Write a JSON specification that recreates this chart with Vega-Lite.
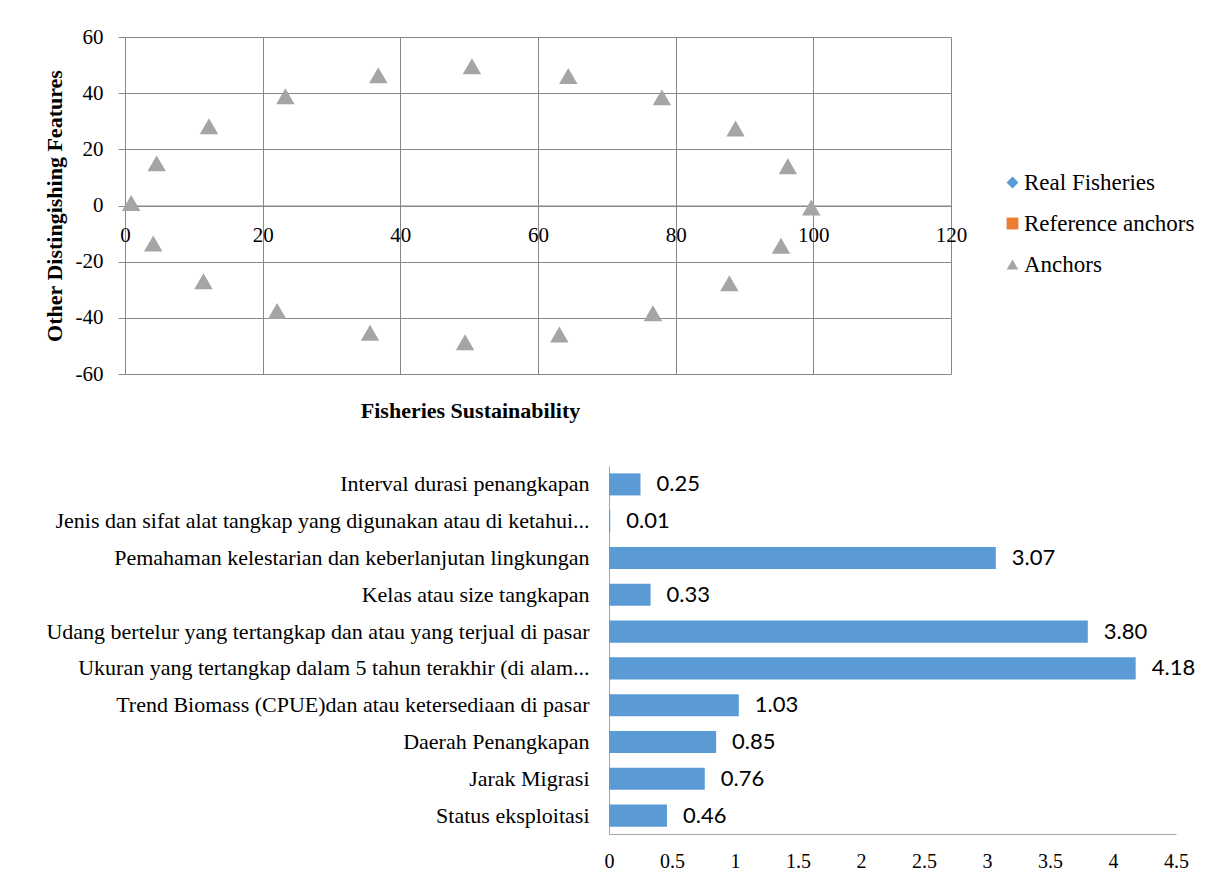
{
  "$schema": "https://vega.github.io/schema/vega-lite/v6.json",
  "background": "white",
  "padding": {"left": 43, "top": 26, "right": 0, "bottom": 0},
  "spacing": 44,
  "config": {
    "view": {"stroke": null},
    "font": "Liberation Serif",
    "axis": {
      "labelFont": "Liberation Serif",
      "titleFont": "Liberation Serif",
      "labelColor": "#000000",
      "titleColor": "#000000"
    }
  },
  "vconcat": [
    {
      "width": 826,
      "height": 337,
      "data": {
        "values": [
          {"sustainability": 0.9, "features": 0.9, "series": "Anchors"},
          {"sustainability": 4.6, "features": 15.0, "series": "Anchors"},
          {"sustainability": 12.2, "features": 28.2, "series": "Anchors"},
          {"sustainability": 23.3, "features": 38.9, "series": "Anchors"},
          {"sustainability": 36.8, "features": 46.4, "series": "Anchors"},
          {"sustainability": 50.4, "features": 49.6, "series": "Anchors"},
          {"sustainability": 64.4, "features": 46.1, "series": "Anchors"},
          {"sustainability": 78.0, "features": 38.5, "series": "Anchors"},
          {"sustainability": 88.7, "features": 27.4, "series": "Anchors"},
          {"sustainability": 96.3, "features": 14.0, "series": "Anchors"},
          {"sustainability": 99.7, "features": -0.7, "series": "Anchors"},
          {"sustainability": 95.3, "features": -14.3, "series": "Anchors"},
          {"sustainability": 87.8, "features": -27.7, "series": "Anchors"},
          {"sustainability": 76.7, "features": -38.4, "series": "Anchors"},
          {"sustainability": 63.1, "features": -45.9, "series": "Anchors"},
          {"sustainability": 49.4, "features": -48.7, "series": "Anchors"},
          {"sustainability": 35.6, "features": -45.3, "series": "Anchors"},
          {"sustainability": 22.1, "features": -37.6, "series": "Anchors"},
          {"sustainability": 11.4, "features": -27.0, "series": "Anchors"},
          {"sustainability": 4.1, "features": -13.5, "series": "Anchors"}
        ]
      },
      "mark": {"type": "point", "filled": true, "opacity": 1, "size": 340},
      "encoding": {
        "x": {
          "field": "sustainability",
          "type": "quantitative",
          "scale": {"domain": [0, 120], "nice": false, "zero": false},
          "axis": {
            "values": [0, 20, 40, 60, 80, 100, 120],
            "title": "Fisheries Sustainability",
            "offset": -168.5,
            "grid": true,
            "gridColor": "#888888",
            "gridOpacity": 1,
            "domain": true,
            "domainColor": "#888888",
            "ticks": false,
            "tickSize": 0,
            "labelPadding": 19,
            "labelFontSize": 21,
            "labelFlush": false,
            "titleFontSize": 22,
            "titleFontWeight": "bold",
            "titleX": 345,
            "titleAlign": "center",
            "titlePadding": 155
          }
        },
        "y": {
          "field": "features",
          "type": "quantitative",
          "scale": {"domain": [-60, 60], "nice": false, "zero": false},
          "axis": {
            "values": [-60, -40, -20, 0, 20, 40, 60],
            "labelExpr": "datum.value < 0 ? '-' + abs(datum.value) : '' + datum.value",
            "title": "Other Distingishing Features",
            "grid": true,
            "gridColor": "#888888",
            "gridOpacity": 1,
            "domain": false,
            "ticks": true,
            "tickSize": 7,
            "tickColor": "#888888",
            "labelPadding": 15,
            "labelFontSize": 21,
            "titleFontSize": 22,
            "titleFontWeight": "bold",
            "titlePadding": 9
          }
        },
        "color": {
          "field": "series",
          "type": "nominal",
          "scale": {
            "domain": ["Real Fisheries", "Reference anchors", "Anchors"],
            "range": ["#5b9bd5", "#ed7d31", "#a5a5a5"]
          },
          "legend": {
            "title": null,
            "orient": "none",
            "legendX": 876,
            "legendY": 134,
            "padding": 0,
            "symbolSize": 140,
            "symbolStrokeWidth": 0,
            "labelFont": "Liberation Serif",
            "labelFontSize": 23,
            "labelColor": "#000000",
            "labelOffset": 0,
            "labelLimit": 300,
            "rowPadding": 17
          }
        },
        "shape": {
          "field": "series",
          "type": "nominal",
          "scale": {
            "domain": ["Real Fisheries", "Reference anchors", "Anchors"],
            "range": ["diamond", "square", "triangle-up"]
          },
          "legend": {
            "title": null,
            "orient": "none",
            "legendX": 876,
            "legendY": 134,
            "padding": 0,
            "symbolSize": 140,
            "symbolStrokeWidth": 0,
            "labelFont": "Liberation Serif",
            "labelFontSize": 23,
            "labelColor": "#000000",
            "labelOffset": 0,
            "labelLimit": 300,
            "rowPadding": 17
          }
        }
      }
    },
    {
      "width": 1051,
      "height": 368,
      "data": {
        "values": [
          {"indicator": "Interval durasi penangkapan", "value": 0.25},
          {"indicator": "Jenis dan sifat alat tangkap yang digunakan atau di ketahui...", "value": 0.01},
          {"indicator": "Pemahaman kelestarian dan keberlanjutan lingkungan", "value": 3.07},
          {"indicator": "Kelas atau size tangkapan", "value": 0.33},
          {"indicator": "Udang bertelur yang tertangkap dan atau yang terjual di pasar", "value": 3.80},
          {"indicator": "Ukuran yang tertangkap dalam 5 tahun terakhir (di alam...", "value": 4.18},
          {"indicator": "Trend Biomass (CPUE)dan atau ketersediaan di pasar", "value": 1.03},
          {"indicator": "Daerah Penangkapan", "value": 0.85},
          {"indicator": "Jarak Migrasi", "value": 0.76},
          {"indicator": "Status eksploitasi", "value": 0.46}
        ]
      },
      "encoding": {
        "y": {
          "field": "indicator",
          "type": "nominal",
          "sort": null,
          "scale": {"paddingInner": 0.4, "paddingOuter": 0.2},
          "axis": {
            "title": null,
            "offset": -484,
            "labelFontSize": 22,
            "labelPadding": 20,
            "labelLimit": 800,
            "ticks": false,
            "domain": true,
            "domainColor": "#a6a6a6"
          }
        },
        "x": {
          "field": "value",
          "type": "quantitative",
          "scale": {"domain": [0, 4.5], "range": [484, 1051], "nice": false},
          "axis": {
            "values": [0, 0.5, 1, 1.5, 2, 2.5, 3, 3.5, 4, 4.5],
            "format": "~g",
            "title": null,
            "grid": false,
            "ticks": false,
            "domain": true,
            "domainColor": "#a6a6a6",
            "labelFontSize": 20,
            "labelPadding": 17,
            "labelFlush": false
          }
        }
      },
      "layer": [
        {"mark": {"type": "bar", "color": "#5b9bd5"}},
        {
          "mark": {
            "type": "text",
            "align": "left",
            "baseline": "middle",
            "dx": 16,
            "font": "Lato",
            "fontSize": 22,
            "color": "#000000"
          },
          "encoding": {
            "text": {"field": "value", "type": "quantitative", "format": ".2f"}
          }
        }
      ]
    }
  ]
}
